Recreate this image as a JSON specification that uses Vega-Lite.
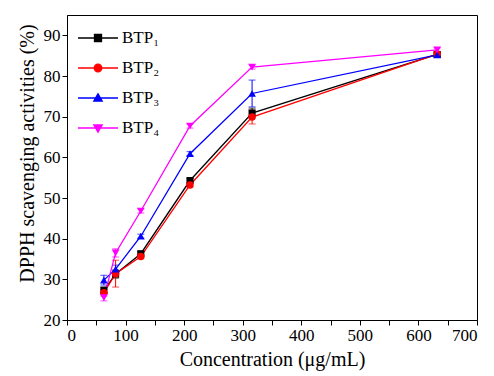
{
  "$schema": "https://vega.github.io/schema/vega-lite/v6.json",
  "autosize": "none",
  "width": 410,
  "height": 305,
  "padding": {"left": 67, "top": 15, "right": 17, "bottom": 56},
  "background": "white",
  "config": {
    "view": {"stroke": "black", "strokeWidth": 1},
    "font": "Liberation Serif",
    "axis": {"grid": false, "domainColor": "black", "tickColor": "black", "labelColor": "black", "titleColor": "black", "labelFont": "Liberation Serif", "titleFont": "Liberation Serif", "labelFontSize": 17, "titleFontSize": 20, "titleFontWeight": "normal"}
  },
  "data": {"values": [
    {"series": "BTP₁", "conc": 63, "value": 27.3, "lo": 26.5, "hi": 28.1},
    {"series": "BTP₁", "conc": 83, "value": 31.3, "lo": 30.3, "hi": 32.3},
    {"series": "BTP₁", "conc": 126, "value": 36.3, "lo": 35.8, "hi": 36.8},
    {"series": "BTP₁", "conc": 210, "value": 54.3, "lo": 53.8, "hi": 54.8},
    {"series": "BTP₁", "conc": 316, "value": 70.9, "lo": 69.7, "hi": 72.1},
    {"series": "BTP₁", "conc": 632, "value": 85.3, "lo": 84.8, "hi": 85.8},
    {"series": "BTP₂", "conc": 63, "value": 26.7, "lo": 25.9, "hi": 27.5},
    {"series": "BTP₂", "conc": 83, "value": 31.4, "lo": 28.1, "hi": 34.7},
    {"series": "BTP₂", "conc": 126, "value": 35.6, "lo": 35.1, "hi": 36.1},
    {"series": "BTP₂", "conc": 210, "value": 53.2, "lo": 52.7, "hi": 53.7},
    {"series": "BTP₂", "conc": 316, "value": 69.9, "lo": 68.2, "hi": 71.6},
    {"series": "BTP₂", "conc": 632, "value": 85.4, "lo": 84.9, "hi": 85.9},
    {"series": "BTP₃", "conc": 63, "value": 29.8, "lo": 28.6, "hi": 31.0},
    {"series": "BTP₃", "conc": 83, "value": 32.5, "lo": 31.5, "hi": 33.5},
    {"series": "BTP₃", "conc": 126, "value": 40.6, "lo": 40.1, "hi": 41.1},
    {"series": "BTP₃", "conc": 210, "value": 60.9, "lo": 60.4, "hi": 61.4},
    {"series": "BTP₃", "conc": 316, "value": 75.7, "lo": 72.4, "hi": 79.0},
    {"series": "BTP₃", "conc": 632, "value": 85.2, "lo": 84.7, "hi": 85.7},
    {"series": "BTP₄", "conc": 63, "value": 25.5, "lo": 24.7, "hi": 26.3},
    {"series": "BTP₄", "conc": 83, "value": 36.5, "lo": 35.5, "hi": 37.5},
    {"series": "BTP₄", "conc": 126, "value": 46.8, "lo": 46.3, "hi": 47.3},
    {"series": "BTP₄", "conc": 210, "value": 67.7, "lo": 67.2, "hi": 68.2},
    {"series": "BTP₄", "conc": 316, "value": 82.2, "lo": 81.7, "hi": 82.7},
    {"series": "BTP₄", "conc": 632, "value": 86.4, "lo": 85.9, "hi": 86.9}
  ]},
  "encoding": {
    "x": {"field": "conc", "type": "quantitative", "scale": {"domain": [0, 700], "nice": false},
      "axis": {"title": "Concentration (μg/mL)", "values": [0,50,100,150,200,250,300,350,400,450,500,550,600,650,700], "labelExpr": "datum.value % 100 === 0 ? datum.label : ''", "titlePadding": 6, "labelPadding": 2,
        "encode": {"ticks": {"update": {"y2": {"signal": "datum.value % 100 === 0 ? 5 : 3"}}}}}},
    "color": {"field": "series", "type": "nominal", "scale": {"domain": ["BTP₁","BTP₂","BTP₃","BTP₄"], "range": ["#000000","#ff0000","#0000ff","#ff00ff"]},
      "legend": {"orient": "none", "legendX": 20, "legendY": 12, "title": null, "padding": 0, "symbolSize": 400, "labelOffset": 13, "rowPadding": 11, "labelFont": "Liberation Serif", "labelFontSize": 17, "labelColor": "black", "symbolStrokeWidth": 1.3,
        "encode": {"symbols": {"update": {
          "shape": {"signal": "datum.value === 'BTP₁' ? 'M-2,0H2M-0.35,-0.35H0.35V0.35H-0.35Z' : datum.value === 'BTP₂' ? 'M-2,0H2M0.38,0A0.38,0.38 0 1,1 -0.38,0A0.38,0.38 0 1,1 0.38,0Z' : datum.value === 'BTP₃' ? 'M-2,0H2M0,-0.42L0.42,0.3H-0.42Z' : 'M-2,0H2M0,0.42L0.42,-0.3H-0.42Z'"},
          "stroke": {"scale": "color", "field": "value"},
          "fill": {"scale": "color", "field": "value"},
          "opacity": {"value": 1}
        }}}}}
  },
  "layer": [
    {"mark": {"type": "errorbar", "ticks": {"size": 7}, "thickness": 1},
     "encoding": {"y": {"field": "lo", "type": "quantitative", "scale": {"domain": [20, 95], "nice": false}, "title": "DPPH scavenging activities (%)"}, "y2": {"field": "hi"}}},
    {"mark": {"type": "line", "strokeWidth": 1.3},
     "encoding": {"y": {"field": "value", "type": "quantitative", "title": "DPPH scavenging activities (%)",
         "axis": {"values": [20,25,30,35,40,45,50,55,60,65,70,75,80,85,90], "labelExpr": "datum.value % 10 === 0 ? datum.label : ''", "titlePadding": 6, "labelPadding": 2, "titleY": 138,
           "encode": {"ticks": {"update": {"x2": {"signal": "datum.value % 10 === 0 ? -5 : -3"}}}}}}}},
    {"transform": [{"filter": "datum.series === 'BTP₁'"}],
     "mark": {"type": "point", "filled": true, "opacity": 1, "size": 50, "shape": "square"},
     "encoding": {"y": {"field": "value", "type": "quantitative"}}},
    {"transform": [{"filter": "datum.series === 'BTP₂'"}],
     "mark": {"type": "point", "filled": true, "opacity": 1, "size": 55, "shape": "circle"},
     "encoding": {"y": {"field": "value", "type": "quantitative"}}},
    {"transform": [{"filter": "datum.series === 'BTP₃'"}],
     "mark": {"type": "point", "filled": true, "opacity": 1, "size": 60, "shape": "triangle-up"},
     "encoding": {"y": {"field": "value", "type": "quantitative"}}},
    {"transform": [{"filter": "datum.series === 'BTP₄'"}],
     "mark": {"type": "point", "filled": true, "opacity": 1, "size": 60, "shape": "triangle-down"},
     "encoding": {"y": {"field": "value", "type": "quantitative"}}}
  ]
}
